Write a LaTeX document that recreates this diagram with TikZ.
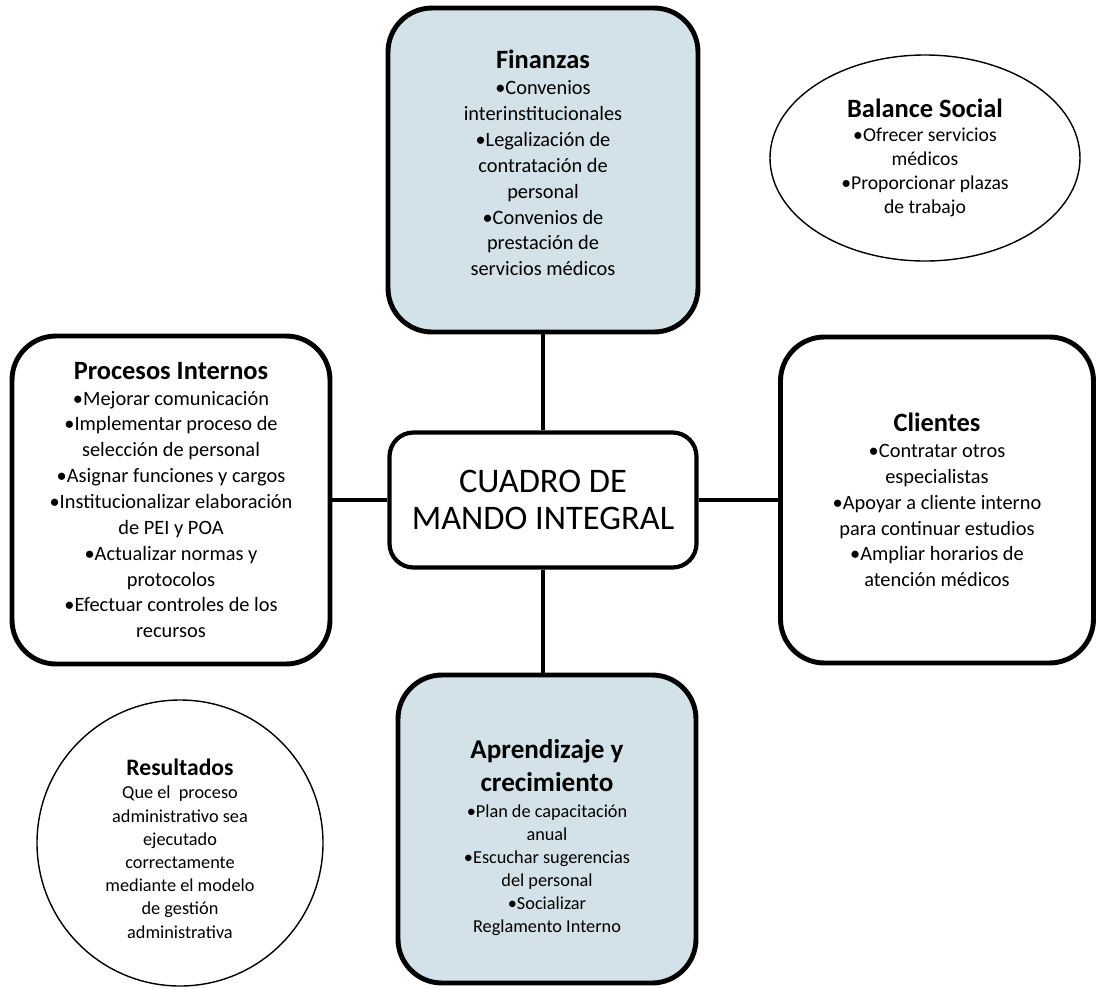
\documentclass[tikz,border=0pt]{standalone}
\usepackage{fontspec}
\setmainfont{Carlito}
\usetikzlibrary{shapes.geometric}

\definecolor{azulclaro}{RGB}{211,226,233}
\newcommand{\titulo}[1]{{\fontsize{18.8}{22}\selectfont\bfseries #1}}

\tikzset{
  caja/.style={draw, line width=3.5pt, rounded corners=1.1cm, align=center,
    font=\fontsize{14.5}{18.4}\selectfont},
  nube/.style={draw, ellipse, line width=1pt, align=center},
  enlace/.style={line width=3.5pt}
}

\begin{document}
\begin{tikzpicture}
    \useasboundingbox (0,0) rectangle (27.5,-24.7);

    % Finanzas (arriba)
    \node[caja, fill=azulclaro, minimum width=7.75cm, minimum height=8.1cm] (fin) at (13.575,-4.25)
      {\titulo{Finanzas}\\•Convenios\\interinstitucionales\\•Legalización de\\contratación de\\personal\\•Convenios de\\prestación de\\servicios médicos\\[-0.3cm]};

    % Balance Social (arriba, derecha)
    \node[nube, minimum width=7.75cm, minimum height=5.15cm, font=\fontsize{14}{17}\selectfont] (bal) at (23.125,-3.95)
      {\titulo{Balance Social}\\•Ofrecer servicios\\médicos\\•Proporcionar plazas\\de trabajo};

    % Cuadro de mando (centro)
    \node[caja, line width=3pt, rounded corners=0.6cm, minimum width=7.675cm, minimum height=3.375cm,
      font=\fontsize{24.5}{26.5}\selectfont] (cmi) at (13.575,-12.5) {CUADRO DE\\MANDO INTEGRAL};

    % Procesos Internos (izquierda)
    \node[caja, minimum width=7.95cm, minimum height=8.2cm] (proc) at (4.275,-12.5)
      {\titulo{Procesos Internos}\\•Mejorar comunicación\\•Implementar proceso de\\selección de personal\\•Asignar funciones y cargos\\•Institucionalizar elaboración\\de PEI y POA\\•Actualizar normas y\\protocolos\\•Efectuar controles de los\\recursos};

    % Clientes (derecha)
    \node[caja, minimum width=7.825cm, minimum height=8.15cm] (cli) at (23.425,-12.5)
      {\titulo{Clientes}\\•Contratar otros\\especialistas\\•Apoyar a cliente interno\\para continuar estudios\\•Ampliar horarios de\\atención médicos};

    % Aprendizaje y crecimiento (abajo)
    \node[caja, fill=azulclaro, minimum width=7.45cm, minimum height=7.7cm,
      font=\fontsize{13}{16.4}\selectfont] (apr) at (13.675,-20.725)
      {{\fontsize{19.3}{22}\selectfont\bfseries Aprendizaje y}\\[6pt]{\fontsize{19.3}{22}\selectfont\bfseries crecimiento}\\[2pt]•Plan de capacitación\\anual\\•Escuchar sugerencias\\del personal\\•Socializar\\Reglamento Interno\\[-0.93cm]};

    % Resultados (abajo, izquierda)
    \node[nube, circle, minimum size=7.15cm, font=\fontsize{13}{16.5}\selectfont] (res) at (4.5,-21.075)
      {{\fontsize{16.8}{19}\selectfont\bfseries Resultados}\\Que el~ proceso\\administrativo sea\\ejecutado\\correctamente\\mediante el modelo\\de gestión\\administrativa\\[-0.86cm]};

    % enlaces con el centro
    \draw[enlace] (fin.south) -- (cmi.north);
    \draw[enlace] (cmi.south) -- (cmi.south |- apr.north);
    \draw[enlace] (proc.east) -- (cmi.west);
    \draw[enlace] (cmi.east) -- (cli.west);
\end{tikzpicture}
\end{document}
